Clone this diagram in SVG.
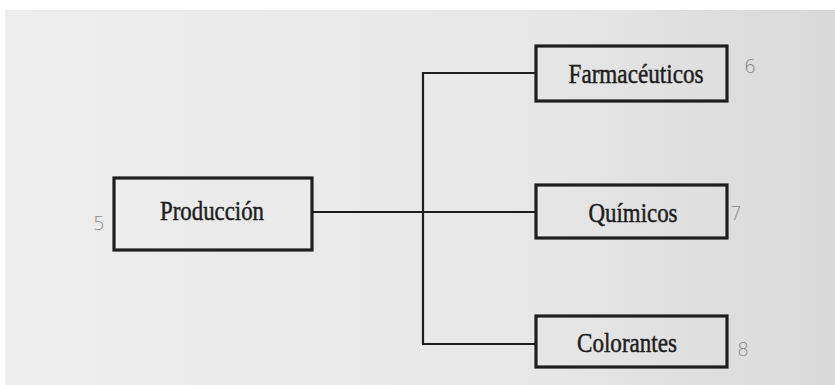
<svg xmlns="http://www.w3.org/2000/svg" width="835" height="385" viewBox="0 0 835 385">
<defs>
<linearGradient id="paper" x1="0" y1="0" x2="1" y2="0">
<stop offset="0" stop-color="#ededed"/>
<stop offset="0.6" stop-color="#e8e8e8"/>
<stop offset="1" stop-color="#d9d9d9"/>
</linearGradient>
</defs>
<style>
.box{fill:none;stroke:#1e1e1e;stroke-width:3.2}
.lbl{font-family:"Liberation Serif","Times New Roman",serif;font-size:28px;fill:#1e1e1e;stroke:#1e1e1e;stroke-width:0.5;text-anchor:middle}
.conn{fill:none;stroke:#1e1e1e;stroke-width:2.2}
.hand{font-family:"DejaVu Sans","Liberation Sans",sans-serif;font-size:19px;fill:#8a8a8a;text-anchor:middle;font-weight:200}
</style>
<rect x="0" y="0" width="835" height="385" fill="#ffffff"/>
<rect x="5" y="10" width="830" height="375" fill="url(#paper)"/>
<g id="connectors">
<path class="conn" d="M312 212 H536"/>
<path class="conn" d="M536 73 H423 V344 H536"/>
</g>
<g id="produccion">
<rect class="box" x="114" y="178" width="198" height="72"/>
<text class="lbl" x="212" y="220" textLength="104" lengthAdjust="spacingAndGlyphs">Producción</text>
</g>
<g id="farmaceuticos">
<rect class="box" x="536" y="46" width="191" height="55"/>
<text class="lbl" x="636" y="83" textLength="135" lengthAdjust="spacingAndGlyphs">Farmacéuticos</text>
</g>
<g id="quimicos">
<rect class="box" x="536" y="185" width="191" height="53"/>
<text class="lbl" x="633" y="222" textLength="89" lengthAdjust="spacingAndGlyphs">Químicos</text>
</g>
<g id="colorantes">
<rect class="box" x="536" y="316" width="191" height="51"/>
<text class="lbl" x="627" y="352" textLength="100" lengthAdjust="spacingAndGlyphs">Colorantes</text>
</g>
<g id="page-numbers">
<text class="hand" x="99" y="230">5</text>
<text class="hand" x="750" y="73">6</text>
<text class="hand" x="736" y="220">7</text>
<text class="hand" x="743" y="356" font-size="22">8</text>
</g>
</svg>
